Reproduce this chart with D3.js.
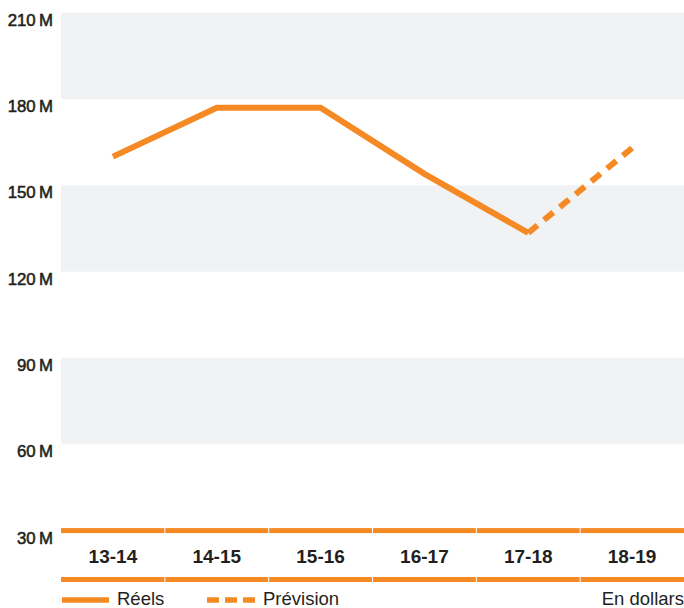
<!DOCTYPE html>
<html>
<head>
<meta charset="utf-8">
<script src="https://cdn.jsdelivr.net/npm/d3@7"></script>
<style>
  html, body { margin: 0; padding: 0; background: #fff; }
  svg { display: block; }
  text { font-family: "Liberation Sans", Arial, Helvetica, sans-serif; fill: #231f20; }
</style>
</head>
<body>
<svg id="chart" width="684" height="608"></svg>
<script>
// ---- data ----
const categories = ["13-14", "14-15", "15-16", "16-17", "17-18", "18-19"];
const actualValues = [160, 177, 177, 154, 133.5, null];
const forecastValues = [null, null, null, null, 133.5, 163];
const yTickValues = [30, 60, 90, 120, 150, 180, 210];
const yTickLabels = ["30\u2009M", "60\u2009M", "90\u2009M", "120\u2009M", "150\u2009M", "180\u2009M", "210\u2009M"];
const legendLabels = ["Réels", "Prévision"];
const unitLabel = "En dollars";

// ---- layout ----
const W = 684, H = 608;
const left = 61, right = 684;
const orange = "#f58a25";
const band = "#f1f2f4";

const svg = d3.select("#chart");

const x = d3.scaleBand().domain(categories).range([left, right]).padding(0);
const y = d3.scaleLinear().domain([30, 210]).range([530.6, 12.8]);
const cx = c => x(c) + x.bandwidth() / 2;

// alternating grey bands: 180-210, 120-150, 60-90
const bandPairs = [[180, 210], [120, 150], [60, 90]];
svg.append("g").selectAll("rect").data(bandPairs).join("rect")
  .attr("x", left).attr("width", right - left)
  .attr("y", d => y(d[1])).attr("height", d => y(d[0]) - y(d[1]))
  .attr("fill", band);

// y axis labels
const yAxis = d3.axisLeft(y).tickValues(yTickValues)
  .tickFormat((d, i) => yTickLabels[i]).tickSize(0).tickPadding(0);
const yg = svg.append("g").attr("transform", `translate(53,0)`).call(yAxis);
yg.select(".domain").remove();
yg.selectAll("text")
  .attr("dy", null).attr("y", 12.5)
  .style("font-size", "16.8px")
  .style("font-family", "'Liberation Sans', Arial, sans-serif")
  .style("fill", "#231f20")
  .style("stroke", "#231f20").style("stroke-width", "0.55px");

// orange category rules (top & bottom), segmented per column
const segs = svg.append("g");
[y(30), 579.5].forEach(yy => {
  segs.selectAll(null).data(categories).join("rect")
    .attr("x", d => x(d) + (d === categories[0] ? 0 : 0.5))
    .attr("width", d => x.bandwidth() - (d === categories[0] ? 0.5 : 1) + (d === categories[categories.length - 1] ? 0.5 : 0))
    .attr("y", yy - 2.5).attr("height", 5)
    .attr("fill", orange);
});

// category labels
const xAxis = d3.axisBottom(x).tickSize(0).tickPadding(0);
const xg = svg.append("g").attr("transform", `translate(0,563)`).call(xAxis);
xg.select(".domain").remove();
xg.selectAll("text")
  .attr("dy", null).attr("y", 0)
  .style("font-size", "19px").style("font-weight", "bold")
  .style("font-family", "'Liberation Sans', Arial, sans-serif")
  .style("fill", "#231f20");

// lines
const line = d3.line()
  .defined(d => d.v !== null)
  .x(d => cx(d.c)).y(d => y(d.v));

const actualData = categories.map((c, i) => ({ c, v: actualValues[i] }));
const forecastData = categories.map((c, i) => ({ c, v: forecastValues[i] }));

const fpath = svg.append("path").datum(forecastData)
  .attr("d", line).attr("fill", "none")
  .attr("stroke", orange).attr("stroke-width", 6);
// fit 7 dashes exactly along the forecast segment so it ends on a dash
const flen = fpath.node().getTotalLength();
const nd = 7, gapRatio = 0.7;
const dash = flen / (nd + (nd - 1) * gapRatio);
fpath.attr("stroke-dasharray", `${dash},${dash * gapRatio}`);

svg.append("path").datum(actualData)
  .attr("d", line).attr("fill", "none")
  .attr("stroke", orange).attr("stroke-width", 6)
  .attr("stroke-linejoin", "miter");

// legend
const lg = svg.append("g");
lg.append("line").attr("x1", 62).attr("x2", 109).attr("y1", 600).attr("y2", 600)
  .attr("stroke", orange).attr("stroke-width", 5.5);
lg.append("text").attr("x", 117).attr("y", 604.5).text(legendLabels[0])
  .style("font-size", "18.5px");
lg.append("line").attr("x1", 207).attr("x2", 255).attr("y1", 600).attr("y2", 600)
  .attr("stroke", orange).attr("stroke-width", 5.5).attr("stroke-dasharray", "12,6");
lg.append("text").attr("x", 263).attr("y", 604.5).text(legendLabels[1])
  .style("font-size", "18.5px");
lg.append("text").attr("x", 684).attr("y", 604.5).attr("text-anchor", "end").text(unitLabel)
  .style("font-size", "18.5px");
</script>
</body>
</html>
